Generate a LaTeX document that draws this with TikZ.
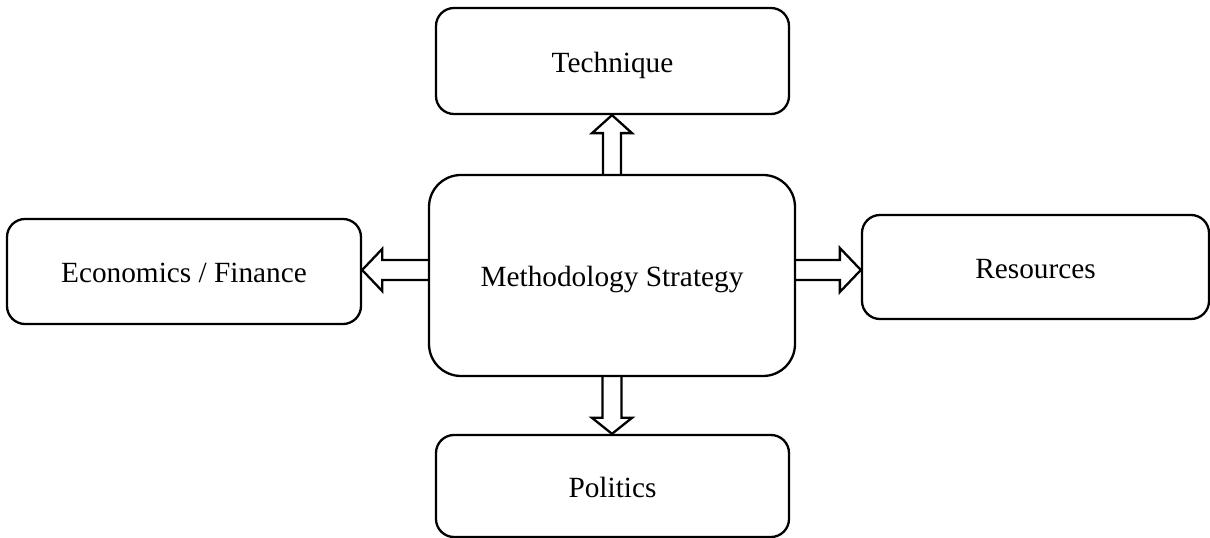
\documentclass[tikz,border=0pt]{standalone}
\usepackage{fontspec}
\setmainfont{Liberation Serif}
\usetikzlibrary{calc}
\begin{document}
\begin{tikzpicture}[x=1pt,y=1pt,
  box/.style={draw, line width=2.3pt, rounded corners=18pt, inner sep=0pt,
    align=center, text height=29pt, text depth=6pt,
    font=\fontsize{29.3}{34}\selectfont},
  fatarrow/.style={draw, line width=2.3pt, line join=miter}]
\useasboundingbox (0,0) rectangle (1210,538);

% boxes
\node[box, minimum width=353pt, minimum height=106pt] (tech) at (612.5,477) {Technique};
\node[box, rounded corners=32pt, minimum width=366pt, minimum height=201pt] (mid) at (612,262.5) {Methodology Strategy};
\node[box, minimum width=354pt, minimum height=105pt] (econ) at (184,266.5) {Economics / Finance};
\node[box, minimum width=347pt, minimum height=104pt] (res) at (1035.5,271) {Resources};
\node[box, minimum width=353pt, minimum height=102pt] (pol) at (612.5,52) {Politics};

% hollow block arrows from the centre box
\draw[fatarrow] let \p1=(mid.north), \p2=(tech.south) in
  (\x1-9pt,\y1) -- (\x1-9pt,\y2-18pt) -- (\x1-20pt,\y2-18pt) -- (\x1,\y2)
  -- (\x1+20pt,\y2-18pt) -- (\x1+9pt,\y2-18pt) -- (\x1+9pt,\y1);
\draw[fatarrow] let \p1=(mid.south), \p2=(pol.north) in
  (\x1-9.5pt,\y1) -- (\x1-9.5pt,\y2+16pt) -- (\x1-20pt,\y2+16pt) -- (\x1,\y2)
  -- (\x1+20pt,\y2+16pt) -- (\x1+9.5pt,\y2+16pt) -- (\x1+9.5pt,\y1);
\draw[fatarrow] let \p1=(mid.west), \p2=(econ.east) in
  (\x1,258pt) -- (\x2+20pt,258pt) -- (\x2+20pt,247pt) -- (\x2,268pt)
  -- (\x2+20pt,289pt) -- (\x2+20pt,278pt) -- (\x1,278pt);
\draw[fatarrow] let \p1=(mid.east), \p2=(res.west) in
  (\x1,258pt) -- (\x2-21pt,258pt) -- (\x2-21pt,246pt) -- (\x2,268pt)
  -- (\x2-21pt,290pt) -- (\x2-21pt,278pt) -- (\x1,278pt);
\end{tikzpicture}
\end{document}
